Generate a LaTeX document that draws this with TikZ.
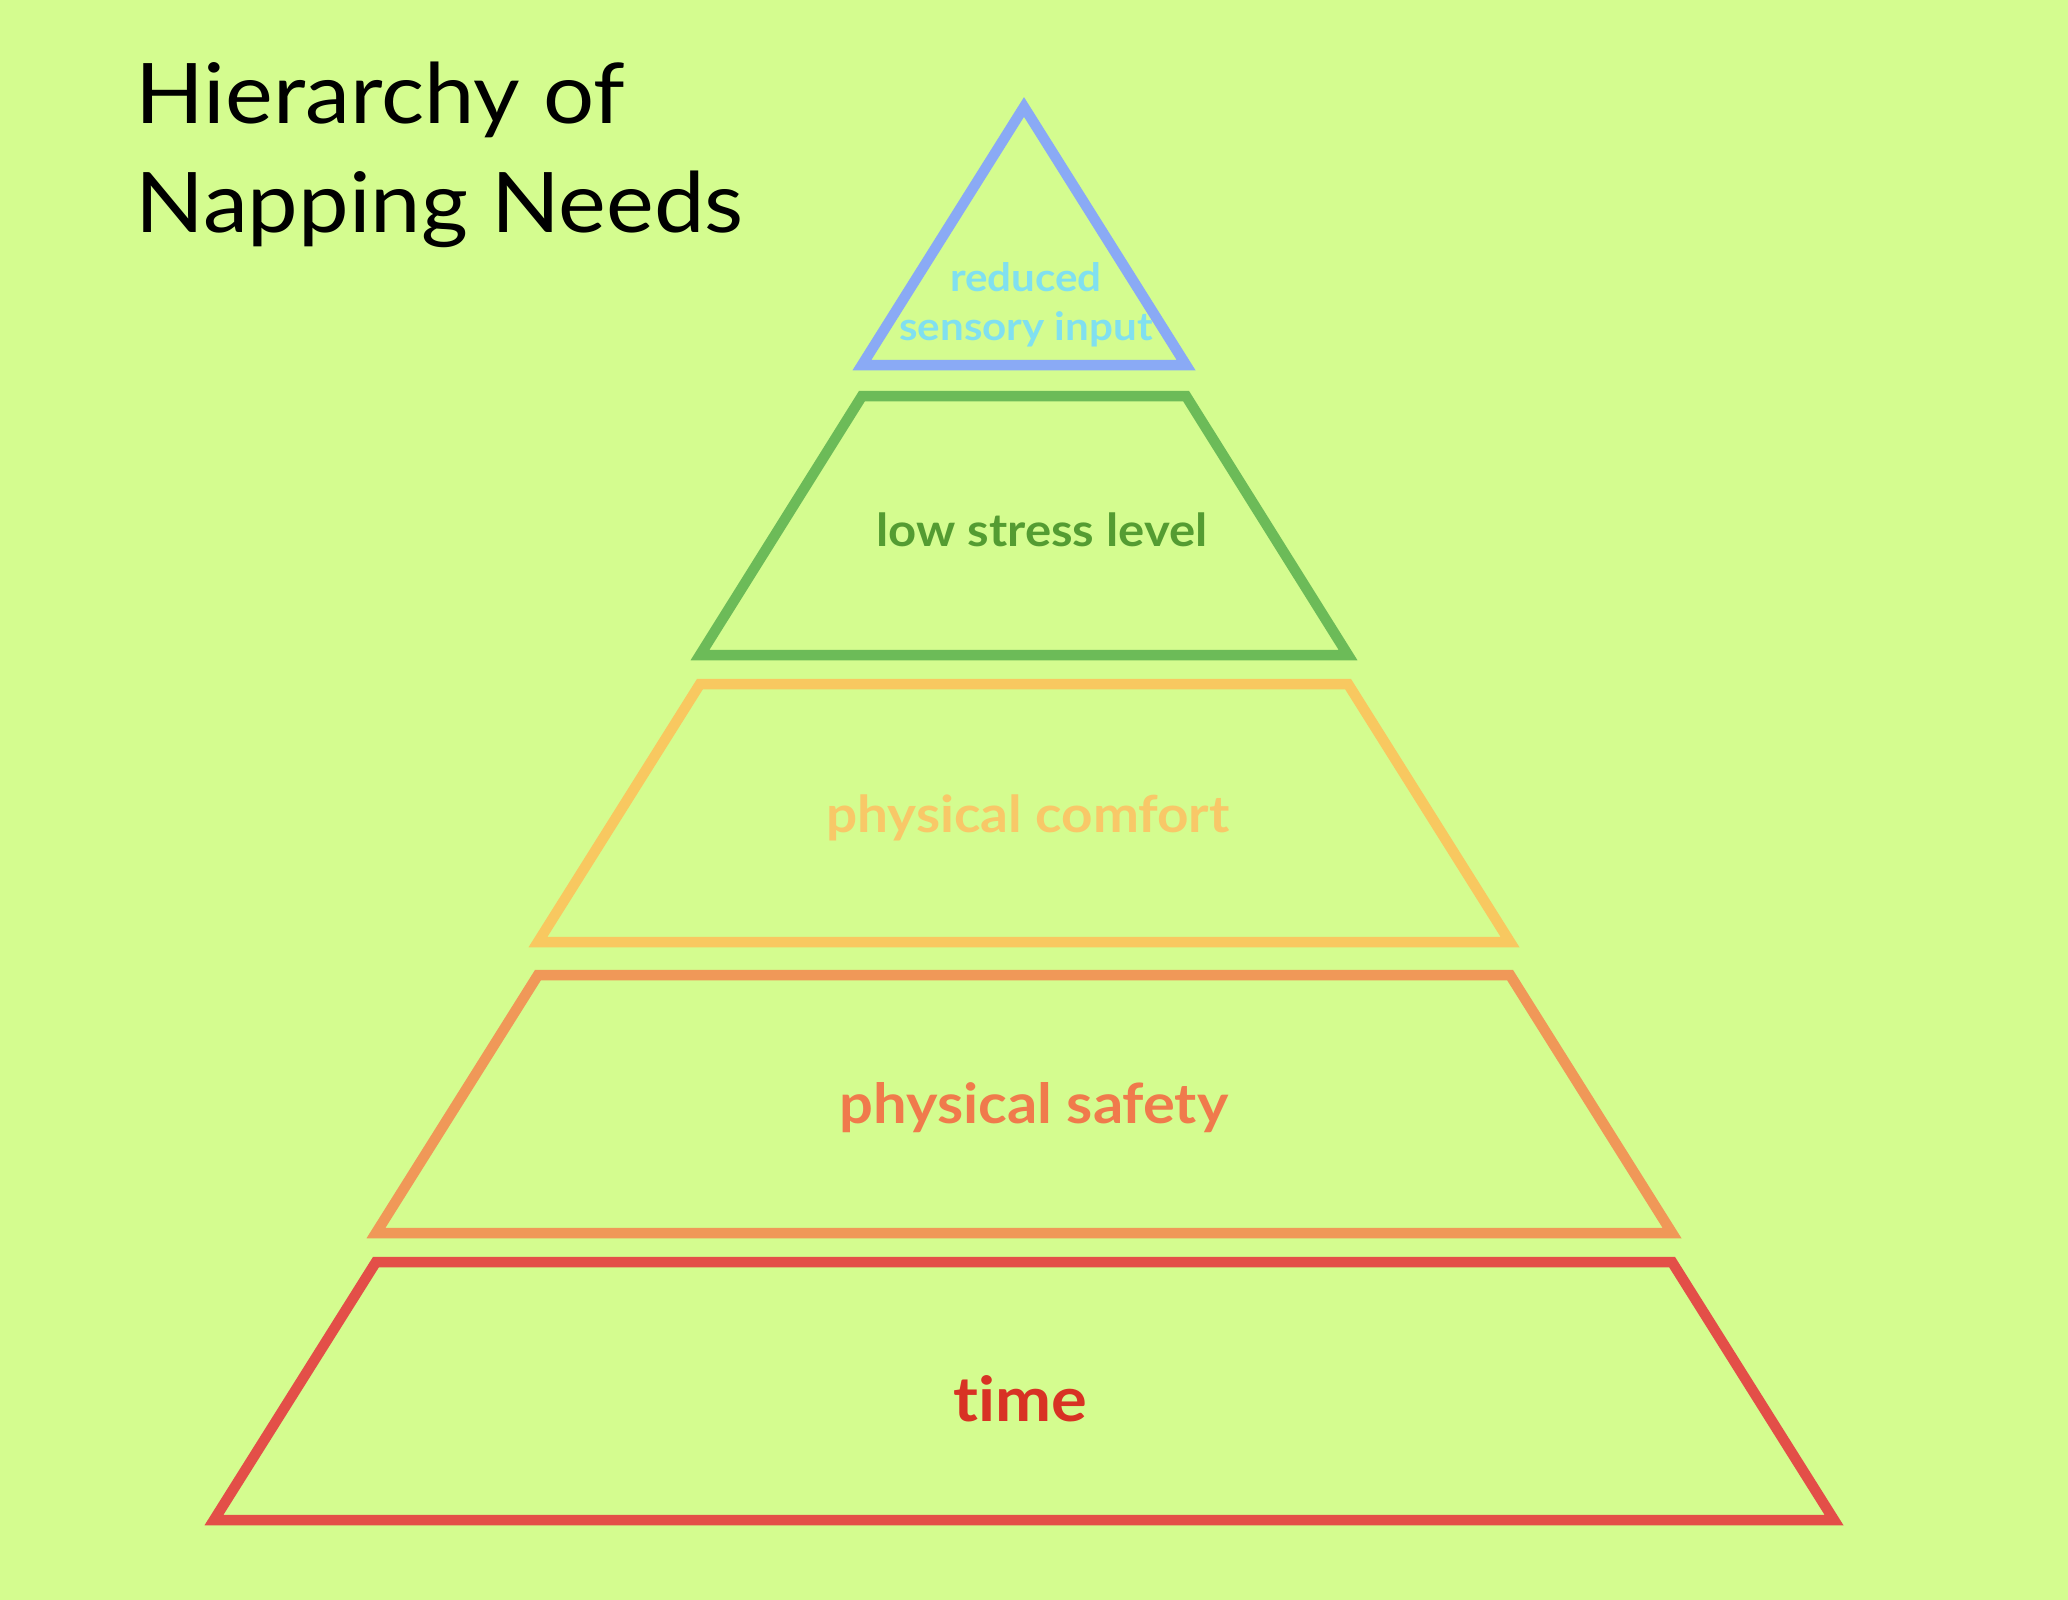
\documentclass[tikz,border=0pt]{standalone}
\usepackage{fontspec}
\setmainfont{Lato}[Ligatures={NoCommon,NoRare}]
\newfontfamily\titlefont{Lato}[FakeStretch=1.08,Ligatures={NoCommon,NoRare}]
\newfontfamily\lblfont{Lato}[FakeStretch=1.08,Ligatures={NoCommon,NoRare}]
\definecolor{bg}{RGB}{212,252,143}
\definecolor{blueline}{RGB}{138,170,245}
\definecolor{bluetext}{RGB}{128,224,240}
\definecolor{greenline}{RGB}{108,187,88}
\definecolor{greentext}{RGB}{84,156,50}
\definecolor{yellowline}{RGB}{248,200,96}
\definecolor{yellowtext}{RGB}{248,200,104}
\definecolor{orangeline}{RGB}{240,152,88}
\definecolor{orangetext}{RGB}{240,122,76}
\definecolor{redline}{RGB}{227,79,72}
\definecolor{redtext}{RGB}{216,50,36}
\tikzset{
  tier/.style={line width=5.25pt, line join=miter},
  lbl/.style={anchor=base, inner sep=0pt, align=center},
  ttl/.style={anchor=base west, inner sep=0pt, font=\titlefont\fontsize{41.8}{54}\selectfont},
}
\begin{document}
\begin{tikzpicture}[x=0.5pt,y=-0.5pt]
\fill[bg] (0,0) rectangle (2068,1600);
\useasboundingbox (0,0) rectangle (2068,1600);
% title
\node[ttl] (t1) at (135,124) {Hierarchy of};
\node[ttl] (t2) at (135,232) {Napping Needs};
% tiers
\draw[tier, blueline] (1024,107) -- (1186,365) -- (862,365) -- cycle;
\draw[tier, greenline] (862,396) -- (1186,396) -- (1348,655) -- (700,655) -- cycle;
\draw[tier, yellowline] (700,684) -- (1348,684) -- (1510,942) -- (538,942) -- cycle;
\draw[tier, orangeline] (538,975) -- (1510,975) -- (1672,1233) -- (376,1233) -- cycle;
\draw[tier, redline] (376,1262) -- (1672,1262) -- (1834,1520) -- (214,1520) -- cycle;
% labels
\node[lbl, text=bluetext, font=\lblfont\bfseries\fontsize{19.5}{24.5}\selectfont] (l1a) at (1026,291) {reduced};
\node[lbl, text=bluetext, font=\lblfont\bfseries\fontsize{19.5}{24.5}\selectfont] (l1b) at (1026,340) {sensory input};
\node[lbl, text=greentext, font=\lblfont\bfseries\fontsize{22.7}{26}\selectfont] (l2) at (1042,546) {low stress level};
\node[lbl, text=yellowtext, font=\lblfont\bfseries\fontsize{25.4}{30}\selectfont] (l3) at (1028,832) {physical comfort};
\node[lbl, text=orangetext, font=\lblfont\bfseries\fontsize{27.6}{30}\selectfont] (l4) at (1034,1123) {physical safety};
\node[lbl, text=redtext, font=\lblfont\bfseries\fontsize{31}{36}\selectfont] (l5) at (1020,1421) {time};
\end{tikzpicture}
\end{document}
